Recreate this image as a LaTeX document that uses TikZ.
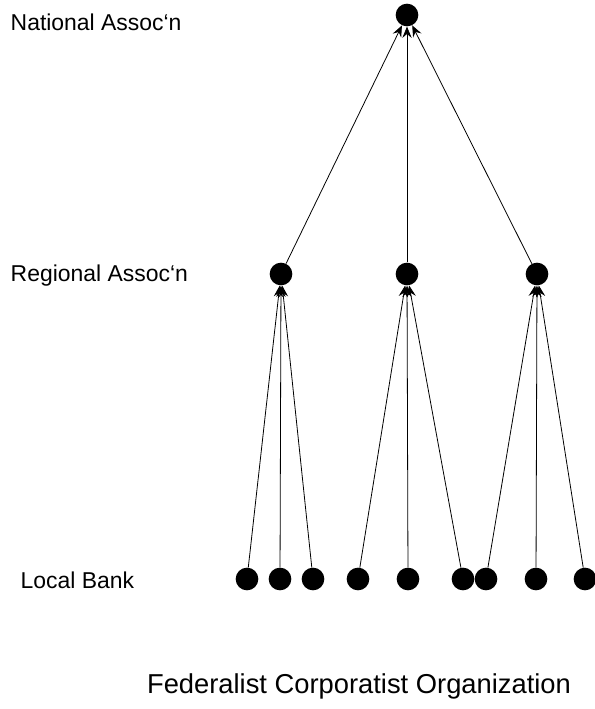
\documentclass[tikz,border=0pt]{standalone}
\usepackage{fontspec}
\setmainfont{Liberation Sans}
\usetikzlibrary{arrows.meta,positioning}

\begin{document}
\begin{tikzpicture}[x=0.75pt,y=-0.75pt,
            member/.style={circle,fill=black,inner sep=0pt,minimum size=17pt},
            level/.style={anchor=west,font=\fontsize{17.2}{20}\selectfont},
            to/.style={-{Stealth[length=8.5pt,width=7pt,inset=3pt]},line width=0.6pt}
  ]
  \useasboundingbox (0,0) rectangle (594,709);

  % levels
  \node[level] (natlabel) at (6,22) {National Assoc‘n};
  \node[level] (reglabel) at (6,276) {Regional Assoc‘n};
  \node[level] (loclabel) at (16,580) {Local Bank};

  \node[member] (nat) at (407,15) {};
  \node[member] (reg1) at (281,274) {};
  \node[member] (reg2) at (407,274) {};
  \node[member] (reg3) at (537,274) {};
  \foreach \x [count=\i] in {247,280,313,358,408,463,486,536,585}
    \node[member] (loc\i) at (\x,579) {};

  \foreach \i in {1,2,3} \draw[to] (loc\i) -- (reg1);
  \foreach \i in {4,5,6} \draw[to] (loc\i) -- (reg2);
  \foreach \i in {7,8,9} \draw[to] (loc\i) -- (reg3);
  \foreach \i in {1,2,3} \draw[to] (reg\i) -- (nat);

  \node[font=\fontsize{20.5}{24}\selectfont] (title) at (359,686) {Federalist Corporatist Organization};

\end{tikzpicture}
\end{document}
